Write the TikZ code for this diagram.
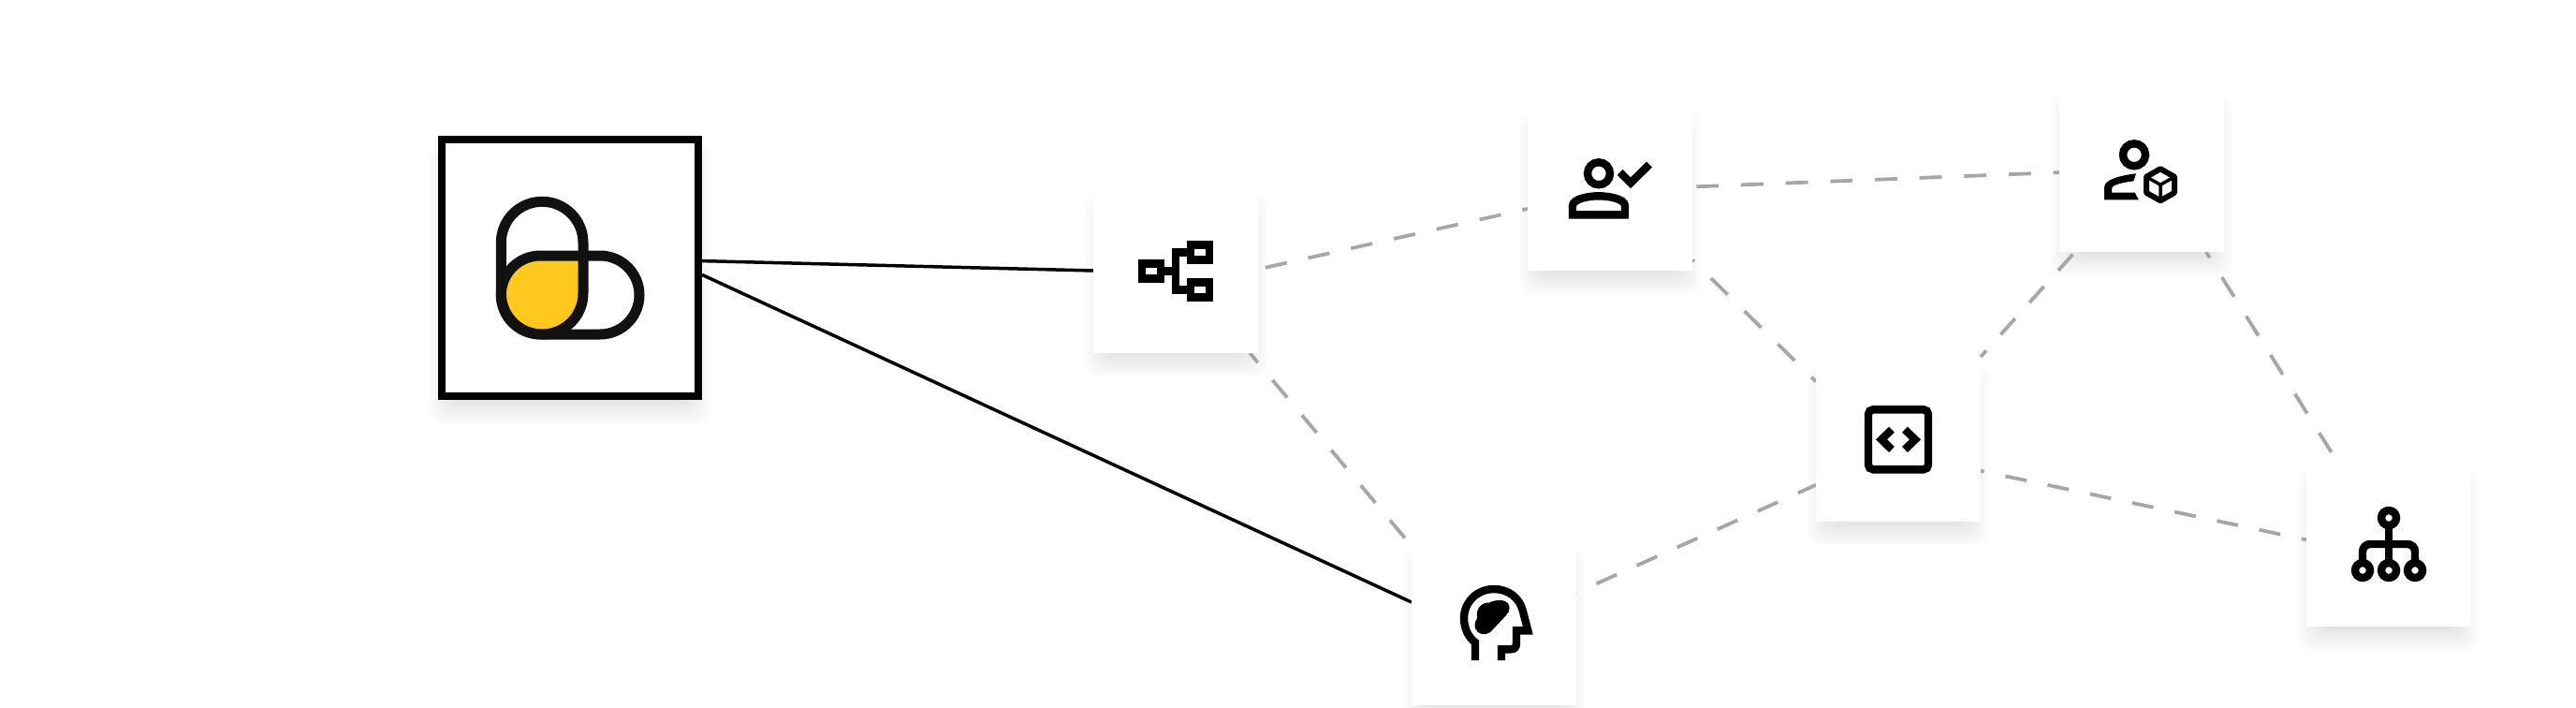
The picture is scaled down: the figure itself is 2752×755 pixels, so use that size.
\documentclass[tikz,border=0pt]{standalone}
\usepackage{xcolor}
\usetikzlibrary{calc,positioning,backgrounds}

\definecolor{inkblack}{HTML}{111111}
\definecolor{pillyellow}{HTML}{FFC81E}
\definecolor{linkgrey}{HTML}{A6A6A6}

\tikzset{
	card/.style={fill=white,minimum size=176pt,inner sep=0pt,outer sep=0pt},
	mainbox/.style={draw=black,fill=white,line width=8pt,minimum size=274pt,inner sep=0pt},
	softshade/.style={fill=black,fill opacity=0.007,rounded corners=14pt},
	wire/.style={draw=black,line width=3.5pt},
	link/.style={draw=linkgrey,line width=3.8pt,dash pattern=on #1 off #1},
	icon/.style={draw=black,line width=8.4pt,miter limit=10},
}

\begin{document}
\begin{tikzpicture}[x=1pt,y=-1pt]
	\useasboundingbox (0,0) rectangle (2752,755);
	%
	\node[mainbox] at (609,286) (main) {};
	\node[card] at (1256,289) (flow) {};
	\node[card] at ($(flow)+(464,-88)$) (user) {};
	\node[card] at ($(user)+(568,-20)$) (cube) {};
	\node[card] at ($(user)+(308,268)$) (code) {};
	\node[card] at ($(flow)+(340,376)$) (head) {};
	\node[card] at ($(code)+(524,112)$) (tree) {};
	%
	\begin{scope}[on background layer]
		\foreach \n in {main,flow,user,cube,code,head,tree} {
			\foreach \k in {-16,-14,...,10} {
				\fill[softshade] ($(\n.north west)+({0-(\k)},{17-(\k)})$) rectangle ($(\n.south east)+({\k},{17+(\k)})$);
			}
		}
		%
		\draw[wire] (main.3.9) -- (flow.west);
		\draw[wire] (main.-3.25) -- (head.166);
		%
		\draw[link=23.45pt,dash phase=39pt] (flow.1.5) -- (user.194.4);
		\draw[link=23.85pt,dash phase=43.4pt] (user.1) -- (cube.182.8);
		\draw[link=25.1pt,dash phase=22.4pt] (user.-41.9) -- (code.145.3);
		\draw[link=24.45pt,dash phase=11.3pt] (flow.-48.7) -- (head.137.2);
		\draw[link=23.6pt,dash phase=23.5pt] (head.20) -- (code.209.6);
		\draw[link=23pt,dash phase=14pt] (code.45.6) -- (cube.231.9);
		\draw[link=23.1pt,dash phase=19.3pt] (code.-21.6) -- (tree.177.2);
		\draw[link=24.5pt,dash phase=17.1pt] (cube.-52.8) -- (tree.122.7);
	\end{scope}
	%
	% pill
	\begin{scope}[shift={(main)}]
		\begin{scope}
			\clip[rounded corners=43.8pt] (-73.7,-70.7) rectangle (14,71);
			\fill[pillyellow,rounded corners=42pt] (-73.7,-13) rectangle (74,71);
		\end{scope}
		\draw[draw=inkblack,line width=11pt,rounded corners=43.8pt] (-73.7,-70.7) rectangle (14,71);
		\draw[draw=inkblack,line width=11pt,rounded corners=42pt] (-73.7,-13) rectangle (74,71);
	\end{scope}
	%
	% tree of boxes
	\begin{scope}[shift={(flow)}]
		\draw[icon] (-36,-7.7) rectangle (-16,8.3);
		\draw[icon] (16,-27.7) rectangle (36,-11.7);
		\draw[icon] (16,12.3) rectangle (36,28.3);
		\draw[icon] (16,-19.7) -- (0,-19.7) -- (0,20.3) -- (16,20.3);
		\draw[icon] (-16,0.3) -- (0,0.3);
	\end{scope}
	%
	% person with tick
	\begin{scope}[shift={(user)}]
		\draw[icon] (-12,-15.7) circle[radius=12pt];
		\draw[icon] (-40,28.3) -- (-40,19) .. controls (-40,11) and (-22,8.3) .. (-12,8.3) .. controls (-2,8.3) and (16,11) .. (16,19) -- (16,28.3) -- cycle;
		\draw[icon] (10.7,-17) -- (22,-5.7) -- (42,-25.3);
	\end{scope}
	%
	% person with cube
	\begin{scope}[shift={(cube)}]
		\draw[icon] (-8,-15.7) circle[radius=12pt];
		\fill[black] (-40,32.3) -- (-40,19) .. controls (-40,10) and (-20,6) .. (-6,4.3) -- (-8.7,12.3) .. controls (-20,14) and (-32,16) .. (-32,20.7) -- (-32,24.7) -- (-7.3,24.7) -- (-3.3,32.3) -- cycle;
		\draw[icon,line width=6pt,line join=round] (20,-0.7) -- (35,7.8) -- (35,24.8) -- (20,33.3) -- (5,24.8) -- (5,7.8) -- cycle;
		\draw[icon,line width=3.5pt] (5,7.8) -- (20,16.3) -- (35,7.8) (20,16.3) -- (20,33.3);
	\end{scope}
	%
	% code window
	\begin{scope}[shift={(code)}]
		\draw[icon,rounded corners=5pt] (-32,-31.7) rectangle (32,32.3);
		\draw[icon] (-7,-10.3) -- (-18,0.3) -- (-7,11);
		\draw[icon] (7,-10.3) -- (18,0.3) -- (7,11);
	\end{scope}
	%
	% head with cloud
	\begin{scope}[shift={(head)}]
		\draw[icon] (-20,40) -- (-20,21) .. controls (-28,15) and (-32,5) .. (-32,-5) .. controls (-32,-22) and (-18,-36) .. (0,-36) .. controls (15,-36) and (27,-27) .. (30.7,-13.3) -- (36.3,8.3) -- (24,8.3) -- (24,22) .. controls (24,26) and (22,28.3) .. (18,28.3) -- (8,28.3) -- (8,40);
		\fill[black] (-17.7,-5) .. controls (-20,-14) and (-14,-22) .. (-5,-21.5) .. controls (-1,-24) and (8,-25) .. (12,-23) .. controls (18,-21) and (18,-12) .. (13,-8) -- (-1,7) .. controls (-6,13) and (-12,14) .. (-17,10) .. controls (-22,6) and (-21,-1) .. (-17.7,-5) -- cycle;
	\end{scope}
	%
	% hierarchy
	\begin{scope}[shift={(tree)}]
		\draw[icon] (0,-28) -- (0,28);
		\draw[icon,rounded corners=8pt] (-28,28) -- (-28,0) -- (28,0) -- (28,28);
		\foreach \x/\y in {0/-28,-28/28,0/28,28/28} {
			\draw[icon,fill=white] (\x,\y) circle[radius=8pt];
		}
	\end{scope}
\end{tikzpicture}
\end{document}
